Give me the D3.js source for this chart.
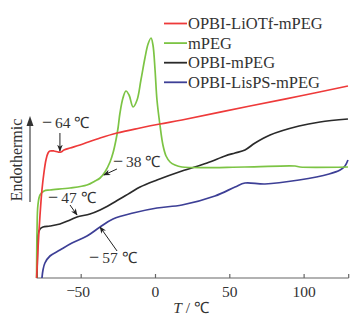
<!DOCTYPE html>
<html><head><meta charset="utf-8">
<script src="https://cdn.jsdelivr.net/npm/d3@7/dist/d3.min.js"></script>
<style>
body{margin:0;background:#fff;}
text{font-family:"Liberation Serif","Times New Roman",serif;fill:#333;}
</style></head>
<body><svg id="c" width="364" height="328"></svg>
<script>
// Temperatures (°C) and relative heat flow (arbitrary units, endothermic up)
const redT = [-80,-79.1,-77.7,-76.4,-75.0,-73.7,-72.3,-71.0,-68.3,-65.6,-63.6,-61.6,-57.5,-50.8,-37.3,-25.9,-10.4,3.0,17.8,63.6,97.2,129.5];
const redV = [0,28,63,88,106,118,125,127,127,126,126,128,130,133,140,145,150,154,158,172,182,192];

const greenT = [-80,-79.7,-79.1,-77.7,-75.0,-71.0,-57.5,-46.1,-40.7,-37.3,-34.0,-30.6,-28.6,-26.6,-25.2,-23.9,-21.9,-19.9,-17.8,-15.1,-12.4,-9.8,-7.1,-5.0,-3.0,-1.7,-0.3,1.0,3.0,5.0,7.1,9.8,13.1,17.8,60,93.9,97.2,129.5];
const greenV = [0,48,73,83,87,88,90,93,97,100,106,116,125,138,150,165,180,187,183,171,178,198,220,234,240,233,208,178,153,133,122,116,113,111,111,112,111,111];

const blackT = [-79.7,-79.4,-79.1,-77.7,-75.7,-71.0,-64.3,-57.5,-52.8,-44.1,-37.3,-28.6,-17.2,-10.4,1.0,17.8,34.7,46.8,53.5,60.2,67.0,77.1,96.6,110.7,129.5];
const blackV = [0,28,43,49,51,52,54,58,61,64,68,75,85,91,98,107,115,122,125,128,135,143,152,156,159];

const blueT = [-76.4,-75.7,-74.4,-71.0,-64.3,-56.2,-46.1,-37.3,-28.6,-15.1,1.0,17.8,40.0,53.5,60.2,73.7,96.6,116.8,124.2,127.5,129.5];
const blueV = [0,8,15,22,28,35,42,51,59,65,70,73,82,91,95,94,98,104,108,112,118];

const seriesNames = ["OPBI-LiOTf-mPEG","mPEG","OPBI-mPEG","OPBI-LisPS-mPEG"];
const seriesColors = ["#ee3a3a","#7cc444","#2a2a2a","#3d3f96"];
const seriesT = [redT, greenT, blackT, blueT];
const seriesV = [redV, greenV, blackV, blueV];

const xTicks = [-50, 0, 50, 100];
const xDomain = [-80, 130];

// annotations: label, target T, target V
const annoLabels = ["64 ℃","38 ℃","47 ℃","57 ℃"];
const annoT = [-64.3,-34.7,-52.8,-37.3];
const annoV = [127,103,63,51];

const svg = d3.select("#c");
const x = d3.scaleLinear().domain(xDomain).range([36.6, 348.7]);
const y = d3.scaleLinear().domain([0, 250]).range([278, 28]);

// x axis
const ax = svg.append("g").attr("transform","translate(0,278)");
ax.append("line").attr("x1",x(xDomain[0])).attr("x2",x(xDomain[1])).attr("stroke","#666").attr("stroke-width",1.2);
[...xTicks, xDomain[1]].forEach(t=>{
  ax.append("line").attr("x1",x(t)).attr("x2",x(t)).attr("y1",0).attr("y2",-4).attr("stroke","#666").attr("stroke-width",1.2);
});
xTicks.forEach(t=>{
  const g = ax.append("g");
  g.append("text").attr("x",x(t)+(t<0?1:0)).attr("y",19).attr("text-anchor","middle").attr("font-size",15.5).text(Math.abs(t));
  if(t<0) g.append("text").attr("x",x(t)-6).attr("y",18).attr("text-anchor","end").attr("font-size",15.5).text("−");
});
// x title
const xt = svg.append("text").attr("x",191).attr("y",313).attr("text-anchor","middle").attr("font-size",15.5);
xt.append("tspan").attr("font-style","italic").text("T");
xt.append("tspan").text(" / ℃");

// y label with arrow
svg.append("text").attr("transform","translate(22,160) rotate(-90)").attr("text-anchor","middle").attr("font-size",16).text("Endothermic");
svg.append("line").attr("x1",30).attr("x2",30).attr("y1",202).attr("y2",124).attr("stroke","#333").attr("stroke-width",1.1);
svg.append("path").attr("d","M30,116 L26.5,126 L33.5,126 Z").attr("fill","#333");

// curves
const order = [3,2,1,0];
order.forEach(i=>{
  const pts = seriesT[i].map((t,j)=>[t, seriesV[i][j]]);
  svg.append("path").datum(pts).attr("d", d3.line().x(d=>x(d[0])).y(d=>y(d[1])).curve(d3.curveCatmullRom.alpha(0.5)))
    .attr("fill","none").attr("stroke",seriesColors[i]).attr("stroke-width",1.7).attr("stroke-linejoin","round");
});

// legend
seriesNames.forEach((n,i)=>{
  const yy = 23.5 + i*19.6;
  svg.append("line").attr("x1",164).attr("x2",187).attr("y1",yy).attr("y2",yy).attr("stroke",seriesColors[i]).attr("stroke-width",1.8);
  svg.append("text").attr("x",188).attr("y",yy+5.5).attr("font-size",16.5).text(n);
});

// annotations
svg.append("defs").append("marker").attr("id","ah").attr("viewBox","0 0 10 10").attr("refX",9).attr("refY",5)
  .attr("markerWidth",7).attr("markerHeight",7).attr("orient","auto-start-reverse")
  .append("path").attr("d","M0,1 L10,5 L0,9 L3,5 Z").attr("fill","#222");
// offsets in px: text start (tx,ty) relative to target, arrow tail (ax,ay)
const annoLayout = [
  {tx:-18, ty:-23, ax:0, ay:-18},
  {tx:9, ty:-8, ax:13, ay:-6},
  {tx:-29, ty:-12, ax:-7, ay:-10},
  {tx:-11, ty:36, ax:17, ay:24}
];
annoLabels.forEach((lab,i)=>{
  const px = x(annoT[i]), py = y(annoV[i]);
  const L = annoLayout[i];
  svg.append("line").attr("x1",px+L.ax).attr("y1",py+L.ay).attr("x2",px).attr("y2",py)
    .attr("stroke","#222").attr("stroke-width",1).attr("marker-end","url(#ah)");
  const t = svg.append("text").attr("x",px+L.tx).attr("y",py+L.ty).attr("font-size",15.5);
  t.append("tspan").attr("font-size",18).attr("dy",0).text("−");
  t.append("tspan").attr("dx",3).text(lab);
});
</script></body></html>
